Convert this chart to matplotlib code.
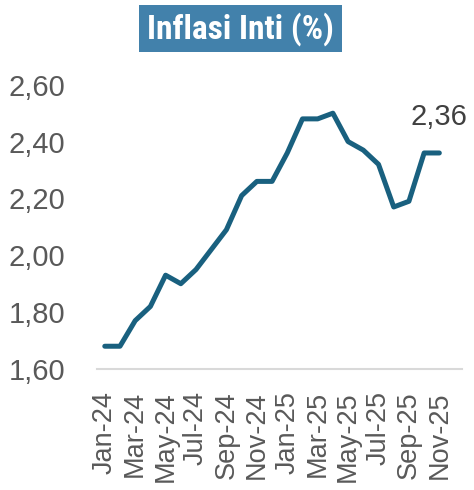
import matplotlib.pyplot as plt
from matplotlib import font_manager
from matplotlib.patches import Rectangle
from matplotlib.ticker import FuncFormatter

months = ['Jan-24', 'Feb-24', 'Mar-24', 'Apr-24', 'May-24', 'Jun-24',
          'Jul-24', 'Aug-24', 'Sep-24', 'Oct-24', 'Nov-24', 'Dec-24',
          'Jan-25', 'Feb-25', 'Mar-25', 'Apr-25', 'May-25', 'Jun-25',
          'Jul-25', 'Aug-25', 'Sep-25', 'Oct-25', 'Nov-25']
core = [1.68, 1.68, 1.77, 1.82, 1.93, 1.90, 1.95, 2.02, 2.09, 2.21, 2.26, 2.26,
        2.36, 2.48, 2.48, 2.50, 2.40, 2.37, 2.32, 2.17, 2.19, 2.36, 2.36]
yticks = [1.6, 1.8, 2.0, 2.2, 2.4, 2.6]

def comma(v, pos=None):
    return f'{v:.2f}'.replace('.', ',')

# narrow face for the title if one is around
installed = {f.name for f in font_manager.fontManager.ttflist}
title_font, title_size = 'Liberation Sans', 20.5
for name in ['Roboto Condensed', 'Liberation Sans Narrow', 'Arial Narrow',
             'DejaVu Sans Condensed', 'Open Sans Condensed']:
    if name in installed:
        title_font, title_size = name, 24
        break

fig = plt.figure(figsize=(4.74, 4.90), dpi=100)
ax = fig.add_axes([0.205, 0.247, 0.77, 0.58])

x = list(range(len(months)))
ax.plot(x, core, color='#19607F', lw=3.6, solid_capstyle='round',
        solid_joinstyle='round')

ax.set_xlim(-0.5, 23.5)
ax.set_ylim(1.6, 2.6)
ax.set_yticks(yticks)
ax.yaxis.set_major_formatter(FuncFormatter(comma))
ax.set_xticks(x[::2])
ax.set_xticklabels(months[::2], rotation=90)

for s in ['top', 'right', 'left']:
    ax.spines[s].set_visible(False)
ax.spines['bottom'].set_color('#D9D9D9')
ax.spines['bottom'].set_linewidth(1.5)
ax.tick_params(length=0, colors='#595959', labelfontfamily='Liberation Sans')
ax.tick_params(axis='y', pad=23, labelsize=21)
ax.tick_params(axis='x', pad=16, labelsize=19.5)

# last value label
ax.annotate(comma(core[-1]), (x[-1], core[-1]),
            xytext=(0, 26), textcoords='offset points', ha='center', va='center',
            fontsize=21, color='#404040', family='Liberation Sans')

fig.add_artist(Rectangle((139 / 474, 1 - 52 / 490), 203 / 474, 47 / 490,
                         transform=fig.transFigure, fc='#4281AB', ec='none'))
fig.text(240.5 / 474, 1 - 29 / 490, 'Inflasi Inti (%)', ha='center', va='center',
         color='white', fontsize=title_size, fontweight='bold', family=title_font)

fig.savefig('out.png', dpi=100)
